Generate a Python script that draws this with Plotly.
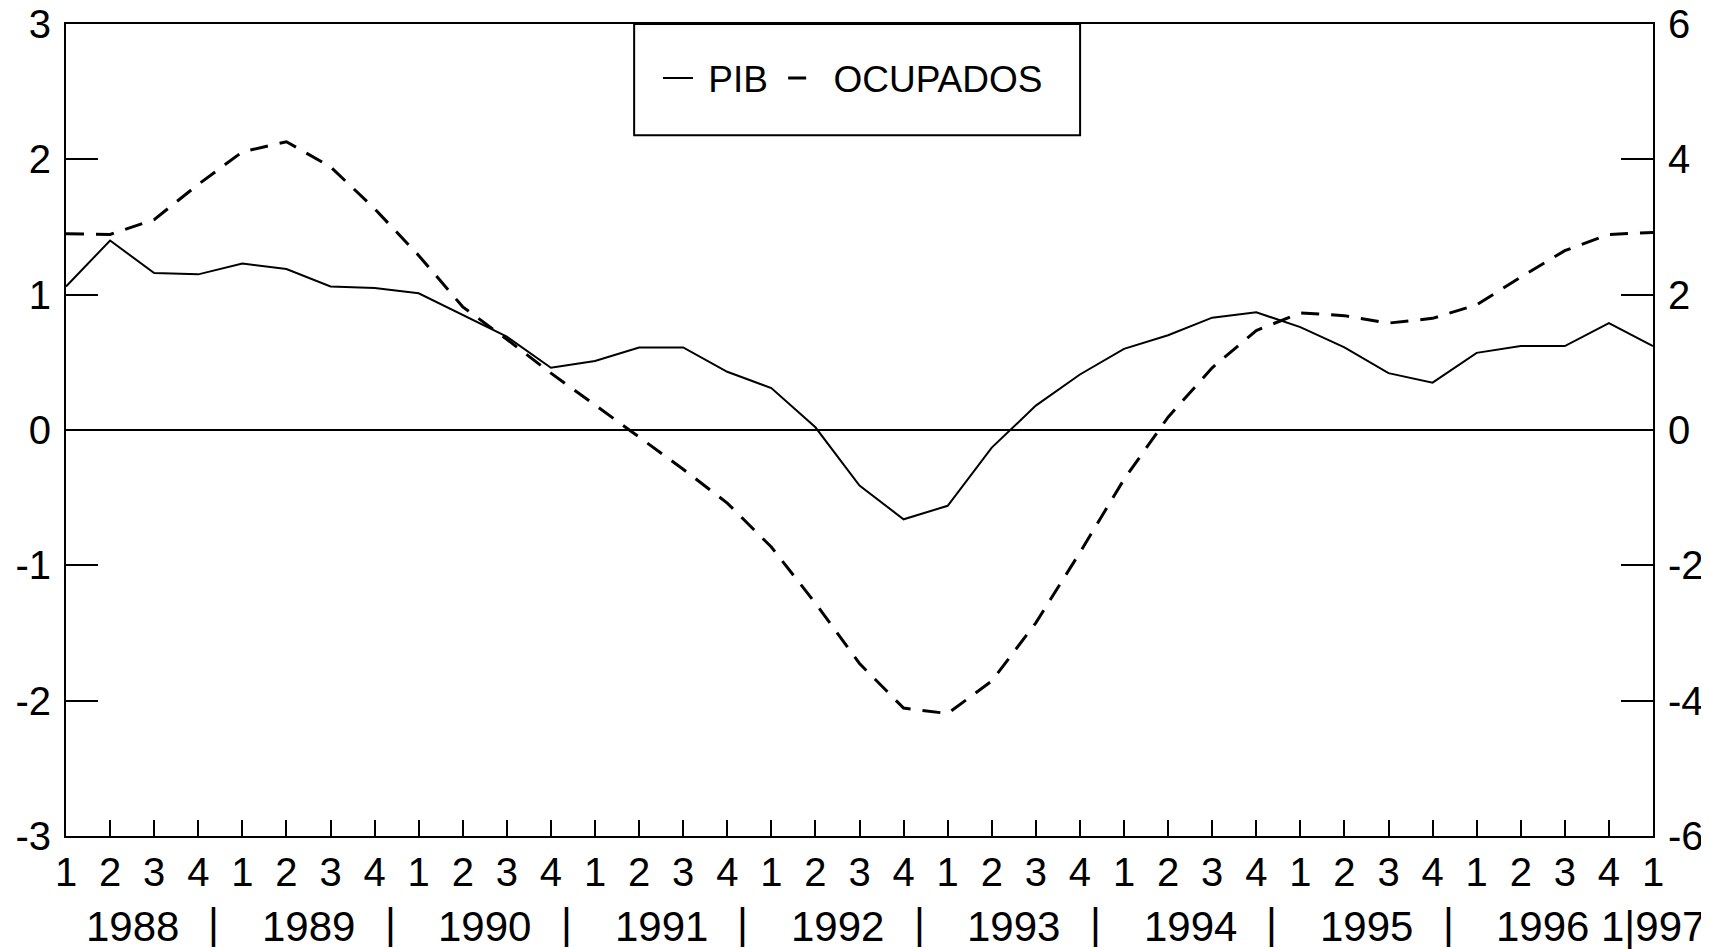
import plotly.graph_objects as go

quarters = ["1", "2", "3", "4"] * 9 + ["1"]
years = ["1988", "1989", "1990", "1991", "1992", "1993", "1994", "1995", "1996"]
last_year_label = "1|997"

pib = [1.06, 1.40, 1.16, 1.15, 1.23, 1.19, 1.06, 1.05,
       1.01, 0.85, 0.69, 0.46, 0.51, 0.61, 0.61, 0.43,
       0.31, 0.02, -0.41, -0.66, -0.56, -0.13, 0.18, 0.41,
       0.60, 0.70, 0.83, 0.87, 0.76, 0.61, 0.42, 0.35,
       0.57, 0.62, 0.62, 0.79, 0.62]

ocupados = [2.90, 2.89, 3.11, 3.63, 4.11, 4.26, 3.89, 3.27,
            2.58, 1.82, 1.34, 0.84, 0.37, -0.11, -0.58, -1.08,
            -1.73, -2.56, -3.45, -4.11, -4.19, -3.71, -2.85, -1.81,
            -0.73, 0.19, 0.92, 1.47, 1.73, 1.69, 1.58, 1.65,
            1.85, 2.26, 2.65, 2.89, 2.92]

left_ticks = [3, 2, 1, 0, -1, -2, -3]
right_ticks = [6, 4, 2, 0, -2, -4, -6]

idx = list(range(len(quarters)))
FONT = "Liberation Sans, Arial, sans-serif"
NB = "\u00a0"

fig = go.Figure()
fig.add_trace(go.Scatter(x=idx, y=pib, mode="lines", name=NB + "PIB" + NB,
                         line=dict(color="black", width=2), yaxis="y"))
fig.add_trace(go.Scatter(x=idx, y=ocupados, mode="lines", name=NB + "OCUPADOS",
                         line=dict(color="black", width=3, dash="18px,12px"),
                         yaxis="y2"))

annotations = []
for k, yr in enumerate(years):
    annotations.append(dict(x=4 * k + 1.5, y=-0.112, xref="x", yref="paper",
                            text=yr, showarrow=False, yanchor="middle",
                            font=dict(size=42, color="black", family=FONT)))
for k in range(8):
    annotations.append(dict(x=4 * k + 3.35, y=-0.108, xref="x", yref="paper",
                            text="|", showarrow=False, yanchor="middle",
                            font=dict(size=42, color="black", family=FONT)))
annotations.append(dict(x=36, y=-0.112, xref="x", yref="paper",
                        text=last_year_label, showarrow=False, yanchor="middle",
                        font=dict(size=42, color="black", family=FONT)))

fig.update_layout(
    width=1701, height=941,
    margin=dict(l=58, r=56, t=16, b=113, autoexpand=False),
    paper_bgcolor="white", plot_bgcolor="white",
    font=dict(family=FONT, color="black", size=40),
    showlegend=True,
    legend=dict(orientation="h", x=0.373, y=0.933, xanchor="left", yanchor="middle",
                bgcolor="rgba(0,0,0,0)", borderwidth=0,
                font=dict(size=37, family=FONT, color="black"),
                itemwidth=30),
    xaxis=dict(range=[0, 36], tickmode="array", tickvals=idx, ticktext=quarters,
               ticks="inside", ticklen=16, tickwidth=1.5, tickcolor="black",
               showline=True, linecolor="black", linewidth=2, mirror=True,
               showgrid=False, zeroline=False, automargin=False,
               ticklabeloverflow="allow",
               tickfont=dict(size=40, family=FONT, color="black")),
    yaxis=dict(range=[-3, 3], tickmode="array", tickvals=left_ticks,
               ticktext=[str(v) for v in left_ticks],
               ticks="inside", ticklen=32, tickwidth=1.5, tickcolor="black",
               showline=True, linecolor="black", linewidth=2, mirror=True,
               showgrid=False, zeroline=True, zerolinecolor="black", zerolinewidth=2,
               automargin=False, ticklabeloverflow="allow",
               tickfont=dict(size=40, family=FONT, color="black"),
               ticklabelstandoff=5),
    yaxis2=dict(range=[-6, 6], overlaying="y", side="right", tickmode="array",
                tickvals=right_ticks, ticktext=[str(v) for v in right_ticks],
                ticks="inside", ticklen=32, tickwidth=1.5, tickcolor="black",
                showline=False, showgrid=False, zeroline=False, automargin=False,
                ticklabeloverflow="allow",
                tickfont=dict(size=40, family=FONT, color="black"),
                ticklabelstandoff=14),
    shapes=[dict(type="rect", xref="paper", yref="paper",
                 x0=0.358, x1=0.639, y0=0.863, y1=1.0,
                 line=dict(color="black", width=2), fillcolor="rgba(0,0,0,0)")],
    annotations=annotations,
)

fig.write_html("out.html")
